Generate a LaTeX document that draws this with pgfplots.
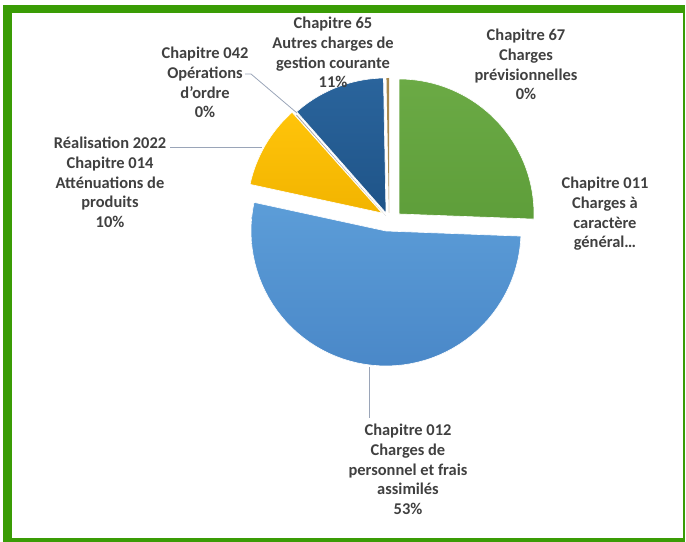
\documentclass[border=0pt]{standalone}
\usepackage{pgfplots}
\pgfplotsset{compat=1.18}
\usepackage{pgfplotstable}
\usepackage{fontspec}
\setmainfont{Carlito}

\definecolor{cadre}{HTML}{3A9C05}
\definecolor{c011}{HTML}{6BAA45}
\definecolor{c011b}{HTML}{5E9E3A}
\definecolor{c012}{HTML}{5C9DD8}
\definecolor{c012b}{HTML}{4A88C8}
\definecolor{c014}{HTML}{FFC40A}
\definecolor{c014b}{HTML}{F2B400}
\definecolor{c042}{HTML}{A5A5A5}
\definecolor{c65}{HTML}{2A649C}
\definecolor{c65b}{HTML}{1F5488}
\definecolor{c67}{HTML}{A88A4E}
\definecolor{txt}{HTML}{404040}
\definecolor{leader}{HTML}{9AA5B8}

% share of each chapter, in %
\pgfplotstableread{
chap pct
011 25.6
012 52.8
014 10.0
042 0.1
65 11.2
67 0.3
}\pietable

\begin{document}
\begin{tikzpicture}
\useasboundingbox (0,0) rectangle (686bp,542bp);

% cumulative angles, clockwise from 12 o'clock
\pgfplotstablegetelem{0}{pct}\of\pietable \let\pA\pgfplotsretval
\pgfplotstablegetelem{1}{pct}\of\pietable \let\pB\pgfplotsretval
\pgfplotstablegetelem{2}{pct}\of\pietable \let\pC\pgfplotsretval
\pgfplotstablegetelem{3}{pct}\of\pietable \let\pD\pgfplotsretval
\pgfplotstablegetelem{4}{pct}\of\pietable \let\pE\pgfplotsretval
\pgfplotstablegetelem{5}{pct}\of\pietable \let\pF\pgfplotsretval
\pgfmathsetmacro\aA{90}
\pgfmathsetmacro\bA{\aA-3.6*\pA}
\pgfmathsetmacro\bB{\bA-3.6*\pB}
\pgfmathsetmacro\bC{\bB-3.6*\pC}
\pgfmathsetmacro\bD{\bC-3.6*\pD}
\pgfmathsetmacro\bE{\bD-3.6*\pE}
\pgfmathsetmacro\bF{\bE-3.6*\pF}

\begin{axis}[
  hide axis,
  x=1bp, y=1bp,
  xmin=-150, xmax=150, ymin=-150, ymax=150,
  at={(386bp,326bp)}, anchor=origin,
  clip=false,
  every axis plot/.append style={draw=white, line width=0.6pt, data cs=polar, samples=60},
]
\addplot[top color=c011, bottom color=c011b, domain=\bA:\aA, xshift=13bp, yshift=2bp] ({x},{135}) -- (axis cs:0,0) -- cycle;
\addplot[top color=c012, bottom color=c012b, domain=\bB:\bA, xshift=0bp, yshift=-15bp] ({x},{135}) -- (axis cs:0,0) -- cycle;
\addplot[top color=c014, bottom color=c014b, domain=\bC:\bB, xshift=-4bp, yshift=3bp] ({x},{135}) -- (axis cs:0,0) -- cycle;
\addplot[fill=c042, draw=none, domain=\bD:\bC, samples=3] ({x},{135}) -- (axis cs:0,0) -- cycle;
\addplot[top color=c65, bottom color=c65b, domain=\bE:\bD, xshift=0bp, yshift=3bp] ({x},{135}) -- (axis cs:0,0) -- cycle;
\addplot[fill=c67, draw=none, domain=\bF:\bE, samples=5, xshift=3bp, yshift=3bp] ({x},{135}) -- (axis cs:0,0) -- cycle;
\end{axis}

\begin{scope}[x=1bp, y=-1bp, yshift=542bp]
  % frame
  \fill[cadre] (3,5) rectangle (685,13);
  \fill[cadre] (3,5) rectangle (12,542);
  \fill[cadre] (3,538) rectangle (685,542);
  \fill[cadre] (682.5,5) rectangle (684.5,542);
  % leader lines
  \draw[leader, line width=0.8pt] (369,367) -- (369,418);
  \draw[leader, line width=0.8pt] (170,147) -- (262,147);
  \draw[leader, line width=0.8pt] (245,74) -- (251,74) -- (297,113);
  % data labels
  \tikzset{lbl/.style={anchor=north, inner sep=0pt, align=center, text=txt,
    font=\fontsize{16.5}{19.8}\selectfont\bfseries}}
  \node[lbl] at (333,17) {Chapitre 65\\Autres charges de\\gestion courante\\11\%};
  \node[lbl] at (526,29) {Chapitre 67\\Charges\\prévisionnelles\\0\%};
  \node[lbl] at (205,47) {Chapitre 042\\Opérations\\d’ordre\\0\%};
  \node[lbl] at (110,137) {Réalisation 2022\\Chapitre 014\\Atténuations de\\produits\\10\%};
  \node[lbl] at (605,177) {Chapitre 011\\Charges à\\caractère\\général…};
  \node[lbl] at (408,424) {Chapitre 012\\Charges de\\personnel et frais\\assimilés\\53\%};
\end{scope}
\end{tikzpicture}
\end{document}
